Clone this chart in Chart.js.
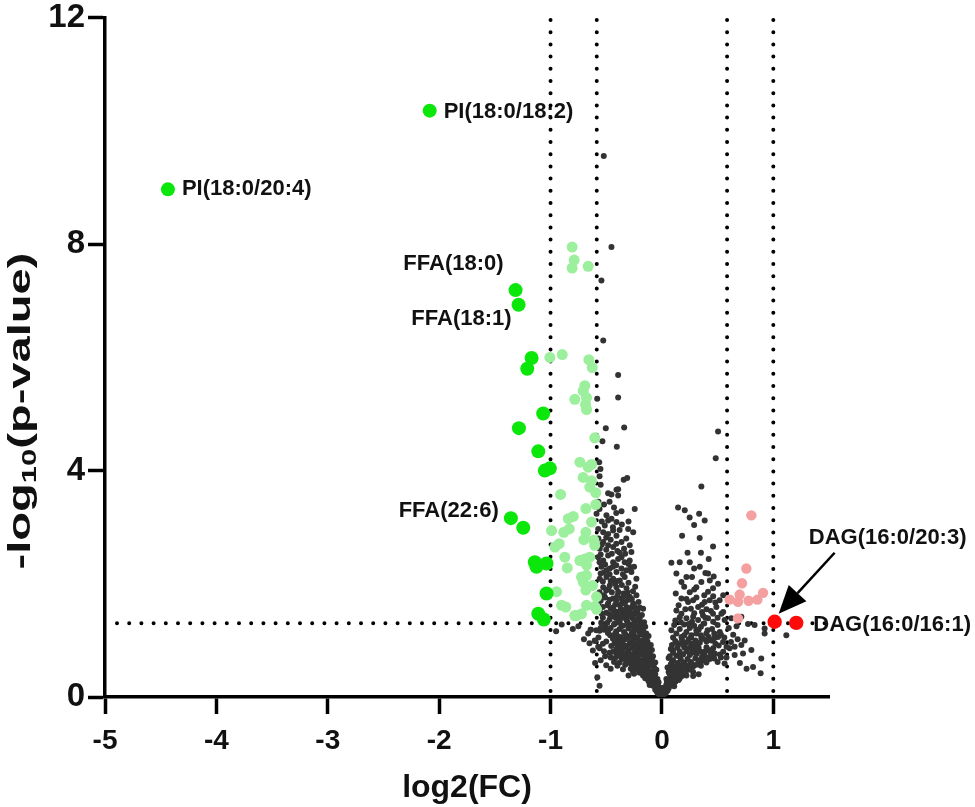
<!DOCTYPE html>
<html>
<head>
<meta charset="utf-8">
<script src="https://cdn.jsdelivr.net/npm/chart.js@4.4.1/dist/chart.umd.min.js"></script>
<style>
  html, body { margin: 0; padding: 0; background: #fff; }
  #wrap { width: 975px; height: 807px; }
</style>
</head>
<body>
<div id="wrap"><canvas id="volcano"></canvas></div>
<script>
// axis ticks
const xTicks = [-5, -4, -3, -2, -1, 0, 1];
const yTicks = [0, 4, 8, 12];

// thresholds (fold change 1.5 / 2, p = 0.05)
const fcLines = [-1, -0.585, 0.585, 1];
const pLine = 1.301;

// significant, |log2FC| > 1, down
const sigDown = [
  [-2.085, 10.36], [-4.435, 8.97], [-1.314, 7.19], [-1.287, 6.93],
  [-1.170, 5.99], [-1.209, 5.80], [-1.066, 5.01], [-1.284, 4.75],
  [-1.110, 4.34], [-1.051, 4.00], [-1.006, 4.04], [-1.356, 3.16],
  [-1.245, 2.99], [-1.141, 2.38], [-1.126, 2.30], [-1.036, 2.36],
  [-1.036, 1.83], [-1.110, 1.47], [-1.060, 1.37]
];

// significant, 0.585 < |log2FC| < 1, down
const modDown = [
  [-0.806, 7.95], [-0.788, 7.72], [-0.806, 7.58], [-0.662, 7.61],
  [-1.006, 6.00], [-0.895, 6.05], [-0.656, 5.96], [-0.626, 5.82],
  [-0.692, 5.50], [-0.707, 5.41], [-0.677, 5.29], [-0.686, 5.17],
  [-0.782, 5.26], [-0.677, 5.08], [-0.603, 4.58], [-0.737, 4.15],
  [-0.662, 4.06], [-0.632, 4.11], [-0.707, 3.88], [-0.632, 3.82],
  [-0.648, 3.71], [-0.910, 3.58], [-0.594, 3.61], [-0.683, 3.33],
  [-0.594, 3.40], [-0.841, 3.15], [-0.796, 3.19], [-0.632, 3.09],
  [-0.991, 2.94], [-0.881, 2.91], [-0.832, 2.97], [-0.683, 2.91],
  [-0.701, 2.78], [-0.612, 2.77], [-0.603, 2.68], [-0.922, 2.71],
  [-0.961, 2.65], [-0.872, 2.47], [-0.737, 2.41], [-0.692, 2.44],
  [-0.648, 2.47], [-0.677, 2.33], [-0.850, 2.28], [-0.722, 2.12],
  [-0.677, 2.15], [-0.707, 2.03], [-0.623, 1.97], [-0.946, 1.86],
  [-0.683, 1.89], [-0.587, 1.77], [-0.901, 1.62], [-0.863, 1.59],
  [-0.677, 1.62], [-0.603, 1.60], [-0.767, 1.44], [-0.722, 1.47],
  [-0.587, 1.55], [-0.782, 1.44]
];

// significant, 0.585 < log2FC < 1, up
const modUp = [
  [0.803, 3.21], [0.758, 2.27], [0.719, 2.01], [0.698, 1.81],
  [0.608, 1.72], [0.683, 1.68], [0.778, 1.70], [0.857, 1.72],
  [0.908, 1.84], [0.683, 1.39]
];

// significant, log2FC > 1, up
const sigUp = [[1.012, 1.33], [1.206, 1.31]];

// not significant, left side of the V
const greyLeft = [
  [-0.01, 0.02], [-0.02, 0.05], [-0.03, 0.08], [-0.015, 0.10], [-0.04, 0.12], [-0.025, 0.14], [-0.05, 0.15],
  [-0.005, 0.03], [-0.035, 0.06], [-0.045, 0.09], [-0.02, 0.11], [-0.06, 0.13],
  [-0.02, 0.17], [-0.06, 0.18], [-0.08, 0.20], [-0.04, 0.22], [-0.10, 0.24], [-0.03, 0.26], [-0.07, 0.27],
  [-0.05, 0.29], [-0.09, 0.30], [-0.12, 0.28], [-0.045, 0.19], [-0.075, 0.235], [-0.11, 0.21],
  [-0.04, 0.32], [-0.08, 0.34], [-0.13, 0.35], [-0.10, 0.37], [-0.17, 0.38], [-0.06, 0.40], [-0.14, 0.41],
  [-0.20, 0.43], [-0.11, 0.44], [-0.08, 0.46], [-0.16, 0.47], [-0.05, 0.48], [-0.22, 0.49], [-0.13, 0.50],
  [-0.26, 0.45], [-0.30, 0.38], [-0.07, 0.36], [-0.15, 0.33], [-0.19, 0.46], [-0.09, 0.42],
  [-0.07, 0.52], [-0.12, 0.54], [-0.18, 0.55], [-0.24, 0.53], [-0.10, 0.57], [-0.15, 0.58], [-0.21, 0.60],
  [-0.28, 0.59], [-0.06, 0.61], [-0.13, 0.63], [-0.19, 0.64], [-0.25, 0.66], [-0.32, 0.63], [-0.09, 0.67],
  [-0.16, 0.68], [-0.22, 0.70], [-0.29, 0.69], [-0.36, 0.67], [-0.43, 0.62], [-0.55, 0.65], [-0.50, 0.56],
  [-0.11, 0.69], [-0.20, 0.52], [-0.27, 0.62], [-0.14, 0.66],
  [-0.08, 0.72], [-0.14, 0.73], [-0.20, 0.74], [-0.26, 0.76], [-0.33, 0.74], [-0.11, 0.77], [-0.17, 0.79],
  [-0.23, 0.80], [-0.30, 0.82], [-0.37, 0.79], [-0.09, 0.83], [-0.15, 0.84], [-0.21, 0.86], [-0.27, 0.87],
  [-0.34, 0.88], [-0.41, 0.85], [-0.12, 0.89], [-0.19, 0.90], [-0.47, 0.78], [-0.56, 0.86], [-0.62, 0.82],
  [-0.24, 0.71], [-0.31, 0.78], [-0.18, 0.83],
  [-0.10, 0.92], [-0.16, 0.94], [-0.23, 0.93], [-0.29, 0.95], [-0.36, 0.96], [-0.13, 0.98], [-0.20, 0.99],
  [-0.26, 1.01], [-0.33, 1.02], [-0.40, 1.00], [-0.15, 1.04], [-0.22, 1.05], [-0.30, 1.07], [-0.37, 1.06],
  [-0.44, 1.03], [-0.12, 1.08], [-0.18, 1.10], [-0.25, 1.09], [-0.50, 0.98], [-0.57, 1.05], [-0.60, 0.99],
  [-0.70, 1.02], [-0.28, 0.97], [-0.17, 1.00],
  [-0.14, 1.12], [-0.20, 1.14], [-0.27, 1.13], [-0.34, 1.15], [-0.41, 1.16], [-0.17, 1.18], [-0.23, 1.19],
  [-0.30, 1.21], [-0.38, 1.20], [-0.46, 1.22], [-0.15, 1.24], [-0.22, 1.25], [-0.28, 1.27], [-0.35, 1.26],
  [-0.43, 1.28], [-0.51, 1.25], [-0.19, 1.29], [-0.56, 1.17], [-0.64, 1.19], [-0.59, 1.18], [-0.80, 1.20],
  [-0.95, 1.16],
  [-0.16, 1.32], [-0.24, 1.34], [-0.31, 1.33], [-0.39, 1.35], [-0.47, 1.37], [-0.20, 1.39], [-0.27, 1.41],
  [-0.35, 1.42], [-0.44, 1.43], [-0.53, 1.40], [-0.18, 1.45], [-0.25, 1.47], [-0.32, 1.48], [-0.41, 1.50],
  [-0.50, 1.49], [-0.22, 1.52], [-0.29, 1.54], [-0.37, 1.55], [-0.46, 1.56], [-0.56, 1.53], [-0.20, 1.58],
  [-0.27, 1.59], [-0.378, 1.36], [-0.423, 1.30], [-0.318, 1.36], [-0.258, 1.38], [-0.199, 1.33],
  [-0.408, 1.50], [-0.348, 1.47], [-0.289, 1.50], [-0.229, 1.47], [-0.169, 1.56], [-0.378, 1.62],
  [-0.318, 1.59], [-0.258, 1.65],
  [-0.527, 1.94], [-0.468, 1.97], [-0.408, 1.94], [-0.318, 1.92], [-0.393, 1.86], [-0.348, 1.83],
  [-0.289, 1.77], [-0.229, 1.80], [-0.438, 1.74], [-0.363, 1.74], [-0.483, 1.65], [-0.55, 1.70],
  [-0.52, 1.80], [-0.45, 1.85], [-0.26, 1.87], [-0.21, 1.68], [-0.33, 1.68], [-0.57, 1.62], [-0.42, 1.63],
  [-0.24, 1.95], [-0.50, 1.88],
  [-0.438, 2.09], [-0.378, 2.06], [-0.334, 2.12], [-0.229, 2.09], [-0.543, 2.30], [-0.498, 2.24],
  [-0.468, 2.27], [-0.408, 2.21], [-0.363, 2.27], [-0.318, 2.24], [-0.274, 2.21], [-0.498, 2.12],
  [-0.558, 2.09], [-0.572, 2.47], [-0.527, 2.41], [-0.483, 2.50], [-0.438, 2.38], [-0.393, 2.44],
  [-0.363, 2.47], [-0.334, 2.38], [-0.274, 2.56], [-0.289, 2.41], [-0.25, 2.30], [-0.55, 2.18],
  [-0.42, 2.00], [-0.30, 2.02],
  [-0.527, 2.74], [-0.483, 2.68], [-0.558, 2.62], [-0.438, 2.65], [-0.363, 2.74], [-0.289, 2.68],
  [-0.572, 2.97], [-0.527, 2.91], [-0.483, 2.88], [-0.438, 2.94], [-0.408, 2.85], [-0.303, 2.97],
  [-0.258, 2.91], [-0.587, 3.24], [-0.498, 3.21], [-0.483, 3.12], [-0.453, 3.15], [-0.408, 3.09],
  [-0.513, 3.03], [-0.40, 2.58], [-0.32, 2.80], [-0.57, 2.80],
  [-0.363, 3.28], [-0.244, 3.32], [-0.483, 3.60], [-0.453, 3.58], [-0.393, 3.56], [-0.408, 3.66],
  [-0.393, 3.67], [-0.343, 3.84], [-0.312, 3.87], [-0.563, 4.15], [-0.552, 4.03], [-0.405, 4.42],
  [-0.534, 4.52], [-0.339, 4.76], [-0.504, 4.75], [-0.56, 3.90], [-0.57, 3.45], [-0.55, 3.75],
  [-0.522, 9.56], [-0.453, 7.95], [-0.543, 7.36], [-0.527, 6.30], [-0.393, 5.69], [-0.393, 5.29],
  [-0.581, 5.27],
  [-0.662, 1.12], [-0.603, 1.00], [-0.572, 0.89], [-0.75, 1.25], [-0.90, 1.28], [-0.65, 0.95],
  [-0.60, 0.60], [-0.58, 0.35], [-0.56, 0.20], [-0.639, 1.19],
  [-0.035, 0.25], [-0.065, 0.31], [-0.095, 0.33], [-0.115, 0.39], [-0.145, 0.44], [-0.175, 0.42],
  [-0.205, 0.51], [-0.235, 0.58], [-0.265, 0.55], [-0.305, 0.61], [-0.335, 0.69], [-0.375, 0.72],
  [-0.405, 0.77], [-0.355, 0.83], [-0.395, 0.91], [-0.425, 0.95], [-0.465, 1.09], [-0.485, 1.13],
  [-0.52, 1.19], [-0.545, 1.31], [-0.49, 1.31], [-0.415, 1.40], [-0.335, 1.40], [-0.295, 1.44],
  [-0.23, 1.36], [-0.185, 1.27], [-0.255, 1.16], [-0.325, 1.10], [-0.405, 1.09], [-0.215, 0.97],
  [-0.245, 0.85], [-0.125, 0.81], [-0.155, 0.75], [-0.105, 0.62], [-0.165, 0.50], [-0.235, 0.65],
  [-0.295, 0.74], [-0.42, 0.69], [-0.51, 0.72], [-0.53, 0.94], [-0.455, 0.90], [-0.345, 0.92],
  [-0.20, 1.21], [-0.53, 1.59], [-0.47, 1.72], [-0.40, 1.79], [-0.30, 1.72], [-0.25, 1.61],
  [-0.36, 1.98], [-0.46, 2.05], [-0.52, 2.20], [-0.44, 2.30], [-0.30, 2.35], [-0.38, 2.55],
  [-0.50, 2.60], [-0.55, 2.52], [-0.46, 2.78], [-0.38, 2.95], [-0.54, 3.10], [-0.43, 3.35],
  [-0.52, 3.40], [-0.30, 3.10], [-0.44, 1.58], [-0.36, 1.26], [-0.26, 1.28],
  [-0.12, 0.58], [-0.17, 0.61], [-0.23, 0.62], [-0.31, 0.66], [-0.38, 0.61], [-0.46, 0.70], [-0.52, 0.81],
  [-0.44, 0.80], [-0.39, 0.86], [-0.32, 0.90], [-0.28, 1.04], [-0.35, 1.00], [-0.42, 1.12], [-0.48, 1.18],
  [-0.55, 1.22], [-0.38, 1.31], [-0.31, 1.28], [-0.25, 1.23], [-0.21, 1.43], [-0.28, 1.46], [-0.38, 1.45],
  [-0.47, 1.46], [-0.54, 1.47], [-0.43, 1.53], [-0.33, 1.54], [-0.24, 1.55], [-0.49, 1.62], [-0.36, 1.65],
  [-0.27, 1.73], [-0.51, 1.76], [-0.41, 1.70], [-0.34, 1.78], [-0.56, 1.85], [-0.48, 1.91], [-0.31, 1.85],
  [-0.40, 2.05], [-0.53, 2.04], [-0.35, 2.17], [-0.47, 2.17], [-0.28, 2.29], [-0.41, 2.33], [-0.51, 2.34],
  [-0.56, 2.38], [-0.33, 2.53], [-0.45, 2.53], [-0.54, 2.69], [-0.41, 2.71], [-0.34, 2.62], [-0.50, 2.82],
  [-0.44, 3.00], [-0.36, 3.05], [-0.56, 3.32], [-0.47, 3.45], [-0.41, 3.25], [-0.20, 0.80], [-0.27, 0.93],
  [-0.14, 0.88], [-0.33, 0.57], [-0.40, 0.55], [-0.46, 0.50], [-0.35, 0.49], [-0.28, 0.50], [-0.25, 0.41]
];

// not significant, right side of the V
const greyRight = [
  [0.01, 0.02], [0.02, 0.05], [0.035, 0.07], [0.015, 0.09], [0.05, 0.11], [0.03, 0.13], [0.06, 0.15],
  [0.005, 0.04], [0.04, 0.10], [0.025, 0.12],
  [0.02, 0.17], [0.05, 0.18], [0.08, 0.20], [0.04, 0.22], [0.10, 0.24], [0.06, 0.26], [0.12, 0.27],
  [0.09, 0.29], [0.15, 0.30], [0.07, 0.23], [0.11, 0.19],
  [0.04, 0.32], [0.08, 0.34], [0.13, 0.35], [0.18, 0.37], [0.10, 0.39], [0.15, 0.41], [0.21, 0.42],
  [0.06, 0.44], [0.12, 0.45], [0.18, 0.47], [0.24, 0.48], [0.28, 0.44], [0.09, 0.49], [0.33, 0.40],
  [0.16, 0.33], [0.22, 0.38],
  [0.05, 0.52], [0.11, 0.53], [0.16, 0.55], [0.22, 0.56], [0.28, 0.54], [0.08, 0.58], [0.14, 0.60],
  [0.20, 0.61], [0.26, 0.62], [0.33, 0.60], [0.10, 0.65], [0.17, 0.66], [0.23, 0.67], [0.30, 0.68],
  [0.37, 0.64], [0.43, 0.67], [0.50, 0.62], [0.06, 0.69], [0.563, 0.59], [0.35, 0.55], [0.19, 0.57],
  [0.07, 0.72], [0.13, 0.73], [0.19, 0.75], [0.25, 0.74], [0.31, 0.76], [0.38, 0.75], [0.10, 0.78],
  [0.16, 0.80], [0.22, 0.81], [0.28, 0.82], [0.35, 0.80], [0.42, 0.83], [0.474, 0.77], [0.384, 0.65],
  [0.08, 0.85], [0.14, 0.87], [0.20, 0.88], [0.26, 0.89], [0.33, 0.87], [0.46, 0.86], [0.653, 0.74],
  [0.728, 0.77], [0.803, 0.83], [0.608, 0.86], [0.653, 0.89], [0.818, 0.53], [0.892, 0.68], [0.886, 0.42],
  [0.55, 0.80],
  [0.09, 0.92], [0.15, 0.93], [0.21, 0.95], [0.27, 0.94], [0.34, 0.96], [0.40, 0.98], [0.12, 0.99],
  [0.18, 1.01], [0.24, 1.02], [0.30, 1.00], [0.37, 1.03], [0.444, 1.00], [0.504, 1.06], [0.549, 0.97],
  [0.713, 0.92], [0.743, 1.00], [0.175, 1.06], [0.265, 1.09], [0.354, 1.03], [0.10, 1.05], [0.48, 0.94],
  [0.085, 1.18], [0.130, 1.12], [0.220, 1.15], [0.309, 1.18], [0.399, 1.12], [0.922, 1.12], [1.117, 1.09],
  [0.16, 1.20], [0.25, 1.22], [0.35, 1.24], [0.45, 1.20], [0.11, 1.27], [0.20, 1.28], [0.29, 1.26],
  [0.773, 1.29], [0.832, 1.27], [0.922, 1.21], [0.52, 1.15], [0.60, 1.22],
  [0.130, 1.53], [0.175, 1.47], [0.220, 1.39], [0.280, 1.42], [0.325, 1.36], [0.369, 1.44], [0.414, 1.39],
  [0.459, 1.47], [0.534, 1.47], [0.563, 1.36], [0.623, 1.39], [0.713, 1.42], [0.325, 1.59], [0.489, 1.59],
  [0.235, 1.68], [0.280, 1.71], [0.384, 1.68], [0.429, 1.71], [0.518, 1.71], [0.12, 1.35], [0.15, 1.62],
  [0.40, 1.55], [0.26, 1.56],
  [0.124, 1.83], [0.175, 1.74], [0.309, 1.94], [0.354, 2.03], [0.414, 1.86], [0.459, 1.92], [0.130, 2.18],
  [0.175, 2.03], [0.220, 2.12], [0.504, 2.00], [0.390, 2.19], [0.414, 2.18], [0.465, 2.13], [0.085, 2.37],
  [0.160, 2.38], [0.289, 2.27], [0.25, 1.85], [0.55, 1.80],
  [0.459, 2.66], [0.181, 2.85], [0.339, 2.81], [0.289, 3.04], [0.384, 3.12], [0.145, 3.35], [0.205, 3.30],
  [0.249, 3.17], [0.334, 3.24], [0.354, 3.72], [0.483, 4.22], [0.504, 4.69],
  [0.025, 0.15], [0.045, 0.27], [0.075, 0.29], [0.11, 0.31], [0.14, 0.38], [0.20, 0.45], [0.25, 0.51],
  [0.31, 0.57], [0.40, 0.61], [0.46, 0.72], [0.52, 0.75], [0.58, 0.70], [0.40, 0.88], [0.36, 0.71],
  [0.30, 0.91], [0.23, 0.97], [0.13, 0.96], [0.20, 1.09], [0.31, 1.12], [0.42, 1.06], [0.47, 1.12],
  [0.56, 1.05], [0.64, 1.10], [0.68, 1.02], [0.50, 1.27], [0.38, 1.30], [0.27, 1.33], [0.17, 1.32],
  [0.44, 1.52], [0.50, 1.40], [0.36, 1.50], [0.21, 1.55], [0.31, 1.76], [0.46, 1.78], [0.20, 1.95],
  [0.27, 2.12], [0.34, 2.30], [0.42, 2.44], [0.23, 2.55], [0.09, 0.61], [0.13, 0.43], [0.27, 0.78],
  [0.62, 0.97], [0.67, 1.25], [0.70, 0.60], [0.76, 0.50], [0.10, 0.83], [0.16, 0.71],
  [0.20, 0.52], [0.27, 0.58], [0.33, 0.65], [0.41, 0.70], [0.47, 0.68], [0.53, 0.70], [0.44, 0.77],
  [0.39, 0.81], [0.32, 0.84], [0.24, 0.86], [0.18, 0.94], [0.26, 1.05], [0.35, 1.09], [0.41, 1.18],
  [0.47, 1.04], [0.53, 1.10], [0.58, 0.89], [0.51, 0.91], [0.33, 1.19], [0.24, 1.29], [0.16, 1.41],
  [0.29, 1.48], [0.39, 1.40], [0.46, 1.33], [0.55, 1.50], [0.36, 1.63], [0.48, 1.67], [0.22, 1.73],
  [0.38, 1.80], [0.29, 1.90], [0.43, 2.06], [0.25, 2.38], [0.35, 2.55], [0.07, 0.40], [0.14, 0.50],
  [0.28, 0.37]
];

const toPts = arr => arr.map(([x, y]) => ({ x, y }));

const FONT = "'Liberation Sans', Arial, sans-serif";

// annotation text, placed relative to the point it names (pixel offsets)
const pointLabels = [
  { text: 'PI(18:0/18:2)', ds: 1, i: 0, dx: 14, dy: 1, align: 'left' },
  { text: 'PI(18:0/20:4)', ds: 1, i: 1, dx: 14, dy: 0, align: 'left' },
  { text: 'FFA(18:0)', ds: 1, i: 2, dx: -12, dy: -26, align: 'right' },
  { text: 'FFA(18:1)', ds: 1, i: 3, dx: -7, dy: 14, align: 'right' },
  { text: 'FFA(22:6)', ds: 1, i: 11, dx: -12, dy: -7, align: 'right' },
  { text: 'DAG(16:0/20:3)', ds: 0, i: 0, dx: 113, dy: -84, align: 'center' },
  { text: 'DAG(16:0/16:1)', ds: 0, i: 1, dx: 17, dy: 2, align: 'left' }
];

const refLines = {
  id: 'refLines',
  beforeDatasetsDraw(chart) {
    const { ctx, scales: { x, y } } = chart;
    ctx.save();
    ctx.strokeStyle = '#000';
    ctx.lineWidth = 4;
    ctx.lineCap = 'round';
    ctx.setLineDash([0, 12.2]);
    fcLines.forEach(v => {
      const px = x.getPixelForValue(v);
      ctx.beginPath();
      ctx.moveTo(px, y.getPixelForValue(0) - 6);
      ctx.lineTo(px, y.getPixelForValue(12));
      ctx.stroke();
    });
    const py = y.getPixelForValue(pLine);
    ctx.beginPath();
    ctx.moveTo(x.getPixelForValue(-5) + 12, py);
    ctx.lineTo(x.getPixelForValue(1.5), py);
    ctx.stroke();
    ctx.restore();
  }
};

const annotations = {
  id: 'annotations',
  afterDatasetsDraw(chart) {
    const { ctx } = chart;
    ctx.save();
    ctx.fillStyle = '#111';
    ctx.font = 'bold 22px ' + FONT;
    ctx.textBaseline = 'middle';
    pointLabels.forEach(l => {
      const el = chart.getDatasetMeta(l.ds).data[l.i];
      ctx.textAlign = l.align;
      ctx.fillText(l.text, el.x + l.dx, el.y + l.dy);
    });

    // arrow from the DAG(16:0/20:3) label to its point
    const p = chart.getDatasetMeta(0).data[0];
    const sx = p.x + 60, sy = p.y - 69;
    const tx = p.x + 4, ty = p.y - 8;
    const ang = Math.atan2(ty - sy, tx - sx);
    const headLen = 28, headW = 12;
    const bx = tx - headLen * Math.cos(ang), by = ty - headLen * Math.sin(ang);
    ctx.strokeStyle = '#000';
    ctx.lineWidth = 2.5;
    ctx.beginPath();
    ctx.moveTo(sx, sy);
    ctx.lineTo(bx, by);
    ctx.stroke();
    ctx.fillStyle = '#000';
    ctx.beginPath();
    ctx.moveTo(tx, ty);
    ctx.lineTo(bx + headW * Math.sin(ang), by - headW * Math.cos(ang));
    ctx.lineTo(bx - headW * Math.sin(ang), by + headW * Math.cos(ang));
    ctx.closePath();
    ctx.fill();

    // y axis title with subscript
    const parts = [['-log', 32, 0], ['10', 21, 9], ['(p-value)', 32, 0]];
    let total = 0;
    parts.forEach(pt => { ctx.font = 'bold ' + pt[1] + 'px ' + FONT; pt.push(ctx.measureText(pt[0]).width); total += pt[3]; });
    const titleLen = 317;
    ctx.translate(21, 411);
    ctx.rotate(-Math.PI / 2);
    ctx.scale(titleLen / total, 1);
    ctx.textAlign = 'left';
    ctx.textBaseline = 'middle';
    ctx.fillStyle = '#111';
    let cx = -total / 2;
    parts.forEach(pt => {
      ctx.font = 'bold ' + pt[1] + 'px ' + FONT;
      ctx.fillText(pt[0], cx, pt[2]);
      cx += pt[3];
    });
    ctx.restore();
  }
};

new Chart(document.getElementById('volcano'), {
  type: 'scatter',
  data: {
    datasets: [
      { label: 'up, FC>2', data: toPts(sigUp), backgroundColor: '#ff0a0a', pointRadius: 7.2, order: 1 },
      { label: 'down, FC>2', data: toPts(sigDown), backgroundColor: '#0be60b', pointRadius: 7, order: 2 },
      { label: 'up, FC>1.5', data: toPts(modUp), backgroundColor: '#f4a0a0', pointRadius: 5.2, order: 3 },
      { label: 'down, FC>1.5', data: toPts(modDown), backgroundColor: '#9cef9c', pointRadius: 5.5, order: 4 },
      { label: 'ns', data: toPts(greyLeft.concat(greyRight)), backgroundColor: '#333333', pointRadius: 3, order: 5 }
    ]
  },
  options: {
    responsive: true,
    maintainAspectRatio: false,
    animation: false,
    layout: { padding: { top: 16, right: 146, bottom: 0, left: 0 } },
    elements: { point: { borderWidth: 0, hoverRadius: 0 } },
    plugins: { legend: { display: false }, tooltip: { enabled: false } },
    scales: {
      x: {
        type: 'linear',
        min: -5,
        max: 1.5,
        afterBuildTicks: s => { s.ticks = xTicks.map(v => ({ value: v })); },
        afterFit: s => { s.height = 110; },
        border: { display: true, color: '#000', width: 3.5 },
        grid: { drawOnChartArea: false, drawTicks: true, tickLength: 17, tickWidth: 3.5, tickColor: '#000' },
        ticks: { color: '#111', padding: 10, font: { family: FONT, size: 28, weight: 'bold' } },
        title: { display: true, text: 'log2(FC)', color: '#111', padding: { top: 0, bottom: 0 },
                 font: { family: FONT, size: 32, weight: 'bold' } }
      },
      y: {
        type: 'linear',
        min: 0,
        max: 12,
        afterBuildTicks: s => { s.ticks = yTicks.map(v => ({ value: v })); },
        afterFit: s => { s.width = 105; },
        border: { display: true, color: '#000', width: 3.5 },
        grid: { drawOnChartArea: false, drawTicks: true, tickLength: 17, tickWidth: 3.5, tickColor: '#000' },
        ticks: { color: '#111', padding: 3, font: { family: FONT, size: 33, weight: 'bold', lineHeight: 0.9 } }
      }
    }
  },
  plugins: [refLines, annotations]
});
</script>
</body>
</html>
